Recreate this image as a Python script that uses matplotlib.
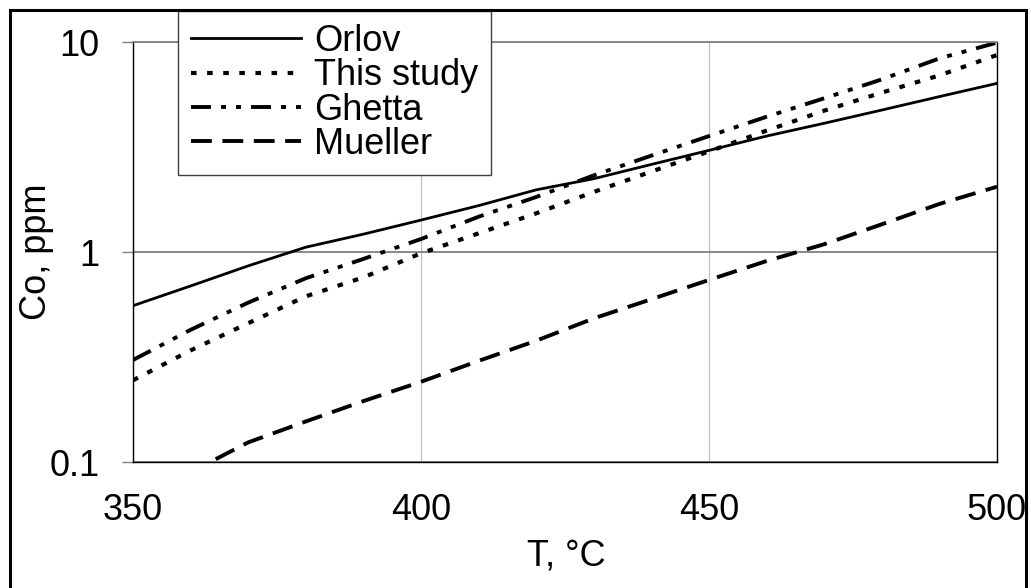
import numpy as np
import matplotlib
matplotlib.use("Agg")
import matplotlib.pyplot as plt
from matplotlib.patches import Rectangle
from matplotlib.ticker import FixedLocator, FixedFormatter, NullLocator

plt.rcParams['font.family'] = ['Liberation Sans', 'DejaVu Sans']
plt.rcParams['lines.scale_dashes'] = False

# temperature, deg C
T = [350, 360, 370, 380, 390, 400, 410, 420, 430, 440, 450, 460, 470, 480, 490, 500]
# Co solubility, ppm
orlov = [0.555, 0.689, 0.859, 1.054, 1.216, 1.419, 1.663, 1.977, 2.234, 2.612,
         3.048, 3.565, 4.102, 4.742, 5.495, 6.353]
this_study = [0.245, 0.340, 0.458, 0.615, 0.757, 0.986, 1.227, 1.528, 1.932, 2.415,
              3.013, 3.784, 4.710, 5.741, 6.934, 8.670]
ghetta = [0.306, 0.426, 0.574, 0.750, 0.927, 1.153, 1.472, 1.828, 2.317, 2.877,
          3.565, 4.406, 5.395, 6.637, 8.356, 9.930]
mueller = [0.063, 0.0895, 0.124, 0.156, 0.195, 0.241, 0.303, 0.378, 0.483, 0.596,
           0.736, 0.906, 1.089, 1.355, 1.694, 2.046]

xticks = [350, 400, 450, 500]
yticks = [0.1, 1, 10]
yticklabels = ['0.1', '1', '10']

W, H = 1031, 588
fig = plt.figure(figsize=(W / 100, H / 100), dpi=100)
ax = fig.add_axes([133 / W, 1 - 462 / H, (997 - 133) / W, (462 - 42) / H])

fs = 26
ax.plot(T, orlov, color='black', lw=2.0, ls='-', label='Orlov')
ax.plot(T, this_study, color='black', lw=3.0, ls=(0, (4.0, 7.6)), label='This study')
ax.plot(T, ghetta, color='black', lw=2.8, ls=(0, (14.4, 7.2, 3.6, 7.2, 3.6, 7.2)), label='Ghetta')
ax.plot(T, mueller, color='black', lw=2.8, ls=(0, (15, 7.6)), label='Mueller')

ax.set_yscale('log')
ax.set_xlim(350, 500)
ax.set_ylim(0.1, 10)

ax.xaxis.set_major_locator(FixedLocator(xticks))
ax.yaxis.set_major_locator(FixedLocator(yticks))
ax.yaxis.set_major_formatter(FixedFormatter(yticklabels))
ax.yaxis.set_minor_locator(NullLocator())
ax.tick_params(axis='x', length=0, pad=22, labelsize=fs)
ax.tick_params(axis='y', length=8, width=1, color='#808080', pad=16, labelsize=fs)

ax.yaxis.grid(True, color='#808080', lw=1.3)
ax.xaxis.grid(True, color='#c0c0c0', lw=0.9)
ax.set_axisbelow(True)

for side in ['left', 'bottom', 'right']:
    ax.spines[side].set_color('black')
    ax.spines[side].set_linewidth(1.0)
ax.spines['top'].set_color('#808080')
ax.spines['top'].set_linewidth(1.3)

ax.set_xlabel('T, °C', fontsize=fs)
ax.xaxis.set_label_coords((566 - 133) / 864, (462 - 556) / 420)
ax.xaxis.label.set_va('center')
ax.set_ylabel('Co, ppm', fontsize=fs)
ax.yaxis.set_label_coords((36 - 133) / 864, 0.5)
ax.yaxis.label.set_va('center')

leg = ax.legend(loc='upper left', bbox_to_anchor=(178 / W, 1 - 11 / H),
                bbox_transform=fig.transFigure, borderaxespad=0,
                fontsize=fs, frameon=True, fancybox=False, framealpha=1,
                edgecolor='#404040', handlelength=3.05, handletextpad=0.36,
                borderpad=0.36, labelspacing=-0.02)
leg.get_frame().set_linewidth(1.0)

# outer chart frame
fig.patches.append(Rectangle((10 / W, -0.05), (1026 - 10) / W, 1 - 10 / H + 0.05,
                             transform=fig.transFigure, fill=False,
                             edgecolor='black', lw=2.2, zorder=10))

fig.savefig('out.png', dpi=100)
